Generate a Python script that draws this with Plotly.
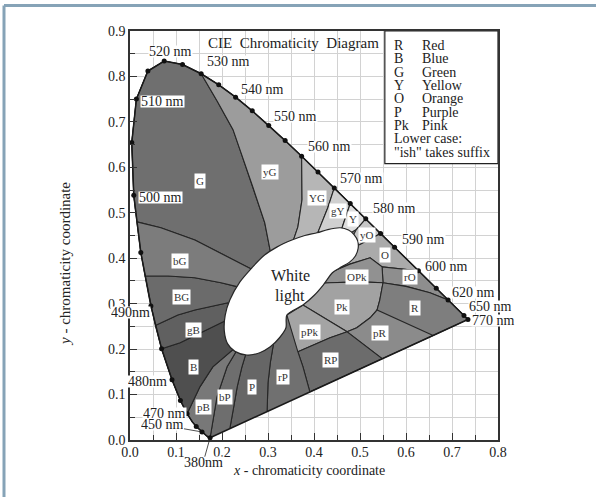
import plotly.graph_objects as go

# ---------------- data ----------------
LOCUS_NM = [380, 400, 420, 440, 450, 460, 465, 470, 475, 480, 485, 490, 495, 500, 505, 510,
            515, 520, 525, 530, 535, 540, 545, 550, 555, 560, 565, 570, 575, 580, 585, 590,
            595, 600, 605, 610, 620, 630, 640, 650, 700, 770]
LOCUS_X = [0.1741, 0.1733, 0.1714, 0.1644, 0.1566, 0.1440, 0.1355, 0.1241, 0.1096, 0.0913, 0.0687,
           0.0454, 0.0235, 0.0082, 0.0039, 0.0139, 0.0389, 0.0743, 0.1142, 0.1547, 0.1929, 0.2296,
           0.2658, 0.3016, 0.3373, 0.3731, 0.4087, 0.4441, 0.4788, 0.5125, 0.5448, 0.5752, 0.6029,
           0.6270, 0.6482, 0.6658, 0.6915, 0.7079, 0.7190, 0.7260, 0.7347, 0.7347]
LOCUS_Y = [0.0050, 0.0048, 0.0051, 0.0109, 0.0177, 0.0297, 0.0399, 0.0578, 0.0868, 0.1327, 0.2007,
           0.2950, 0.4127, 0.5384, 0.6548, 0.7502, 0.8120, 0.8338, 0.8262, 0.8059, 0.7816, 0.7543,
           0.7243, 0.6923, 0.6589, 0.6245, 0.5896, 0.5547, 0.5202, 0.4866, 0.4544, 0.4242, 0.3965,
           0.3725, 0.3514, 0.3340, 0.3083, 0.2920, 0.2809, 0.2740, 0.2653, 0.2653]

DOT_NM = [380, 450, 460, 470, 475, 480, 485, 490, 495, 500, 505, 510, 515, 520, 525, 530, 535,
          540, 545, 550, 555, 560, 565, 570, 575, 580, 585, 590, 600, 610, 620, 650, 770]

# region boundaries (x, y)
G_bG = [(0.015, 0.480), (0.067, 0.467), (0.141, 0.440), (0.213, 0.403), (0.272, 0.372)]
bG_BG = [(0.033, 0.361), (0.083, 0.361), (0.141, 0.357), (0.198, 0.346), (0.235, 0.337)]
BG_gB = [(0.055, 0.252), (0.104, 0.275), (0.141, 0.286), (0.213, 0.302)]
gB_B = [(0.0687, 0.2007), (0.109, 0.214), (0.152, 0.236), (0.206, 0.262)]
B_pB = [(0.1241, 0.0578), (0.152, 0.117), (0.180, 0.161), (0.225, 0.200)]
pB_bP = [(0.1741, 0.005), (0.189, 0.095), (0.211, 0.161), (0.232, 0.197)]
bP_P = [(0.217, 0.025), (0.225, 0.070), (0.233, 0.117), (0.243, 0.160), (0.252, 0.190)]
P_rP = [(0.298, 0.063), (0.300, 0.126), (0.305, 0.170), (0.312, 0.212)]
rP_RP = [(0.391, 0.106), (0.376, 0.161), (0.365, 0.194)]
RP_pR = [(0.548, 0.179), (0.472, 0.238)]
pR_R = [(0.659, 0.230), (0.537, 0.286)]
G_yG = [(0.1547, 0.8059), (0.190, 0.745), (0.224, 0.683), (0.239, 0.639), (0.267, 0.557),
        (0.293, 0.478), (0.308, 0.400)]
yG_YG = [(0.3731, 0.6245), (0.374, 0.529), (0.365, 0.469), (0.354, 0.436)]
YG_gY = [(0.4441, 0.5547), (0.430, 0.511), (0.409, 0.458)]
gY_Y = [(0.4788, 0.5202), (0.470, 0.495), (0.461, 0.467)]
Y_yO = [(0.5125, 0.4866), (0.492, 0.463)]
yO_O = [(0.5448, 0.4544), (0.500, 0.430)]
O_rO = [(0.6270, 0.3725), (0.548, 0.381)]
OPK_TOP = [(0.439, 0.370), (0.478, 0.387), (0.522, 0.401)]
BAND_OUT = [(0.522, 0.401), (0.548, 0.381), (0.550, 0.346), (0.543, 0.308), (0.537, 0.286),
            (0.522, 0.269), (0.493, 0.247), (0.472, 0.238), (0.435, 0.225), (0.365, 0.194)]
LONG = [(0.418, 0.345), (0.435, 0.346), (0.500, 0.348), (0.550, 0.346), (0.600, 0.338),
        (0.652, 0.324), (0.6915, 0.3083)]
Pk_pPk = [(0.376, 0.297), (0.472, 0.238)]
pPk_EDGE = [(0.341, 0.275), (0.365, 0.194)]

WHITE = [(0.407, 0.456), (0.430, 0.463), (0.457, 0.467), (0.475, 0.462), (0.487, 0.452),
         (0.495, 0.438), (0.496, 0.422), (0.490, 0.405), (0.478, 0.392), (0.455, 0.378),
         (0.440, 0.368), (0.420, 0.341), (0.400, 0.318), (0.376, 0.297), (0.341, 0.275),
         (0.339, 0.247), (0.325, 0.225), (0.305, 0.205), (0.282, 0.192), (0.254, 0.187),
         (0.228, 0.195), (0.212, 0.212), (0.205, 0.240), (0.207, 0.275), (0.217, 0.308),
         (0.239, 0.348), (0.265, 0.379), (0.290, 0.405), (0.320, 0.425), (0.352, 0.440),
         (0.380, 0.450)]

REGION_NAMES = ["G", "yG", "YG", "gY", "Y", "yO", "O", "rO", "OPk", "Pk", "pPk", "R", "pR",
                "RP", "rP", "P", "bP", "pB", "B", "gB", "BG", "bG"]
REGION_GRAYS = ["#6f6f6f", "#9c9c9c", "#b6b6b6", "#d0d0d0", "#dedede", "#c6c6c6", "#aaaaaa",
                "#8e8e8e", "#919191", "#a2a2a2", "#a4a4a4", "#7e7e7e", "#8b8b8b", "#6c6c6c",
                "#707070", "#666666", "#6e6e6e", "#787878", "#4f4f4f", "#606060", "#6b6b6b",
                "#7c7c7c"]

LABEL_X = [0.152, 0.304, 0.407, 0.452, 0.485, 0.515, 0.554, 0.609, 0.493, 0.461, 0.391, 0.620,
           0.543, 0.435, 0.333, 0.265, 0.207, 0.159, 0.137, 0.137, 0.111, 0.109]
LABEL_Y = [0.570, 0.590, 0.533, 0.504, 0.487, 0.452, 0.407, 0.359, 0.359, 0.293, 0.238, 0.291,
           0.236, 0.176, 0.139, 0.117, 0.095, 0.073, 0.161, 0.242, 0.315, 0.394]

NM_LABELS = ["520 nm", "530 nm", "540 nm", "550 nm", "560 nm", "570 nm", "580 nm", "590 nm",
             "600 nm", "620 nm", "650 nm", "770 nm", "510 nm", "500 nm", "490nm", "480nm",
             "470 nm"]
NM_LABEL_X = [0.087, 0.215, 0.289, 0.359, 0.433, 0.504, 0.574, 0.639, 0.689, 0.746, 0.783,
              0.791, 0.070, 0.067, 0.000, 0.039, 0.076]
NM_LABEL_Y = [0.855, 0.833, 0.771, 0.711, 0.645, 0.575, 0.509, 0.441, 0.381, 0.324, 0.293,
              0.264, 0.744, 0.533, 0.281, 0.128, 0.059]

LEGEND_CODES = ["R", "B", "G", "Y", "O", "P", "Pk"]
LEGEND_NAMES = ["Red", "Blue", "Green", "Yellow", "Orange", "Purple", "Pink"]
LEGEND_NOTE = ["Lower case:", "\"ish\" takes suffix"]

X_RANGE = [0.0, 0.8]
Y_RANGE = [0.0, 0.9]
X_TICKS = [0.0, 0.1, 0.2, 0.3, 0.4, 0.5, 0.6, 0.7, 0.8]
Y_TICKS = [0.0, 0.1, 0.2, 0.3, 0.4, 0.5, 0.6, 0.7, 0.8, 0.9]

# ---------------- helpers ----------------
def pt(nm):
    i = LOCUS_NM.index(nm)
    return (LOCUS_X[i], LOCUS_Y[i])


def arc(a, b):
    if a <= b:
        return [pt(n) for n in LOCUS_NM if a <= n <= b]
    return [pt(n) for n in reversed(LOCUS_NM) if b <= n <= a]


polys = {
    "G": [G_bG[0]] + arc(500, 525) + G_yG + [(0.300, 0.360)] + G_bG[::-1],
    "yG": arc(530, 555) + yG_YG + [(0.335, 0.410)] + G_yG[::-1],
    "YG": arc(560, 565) + YG_gY + [(0.380, 0.430)] + yG_YG[::-1],
    "gY": arc(570, 570) + gY_Y + [(0.435, 0.450)] + YG_gY[::-1],
    "Y": arc(575, 575) + Y_yO + [(0.470, 0.450)] + gY_Y[::-1],
    "yO": arc(580, 580) + yO_O + [(0.475, 0.430)] + Y_yO[::-1],
    "O": arc(585, 595) + O_rO + [BAND_OUT[0]] + OPK_TOP[::-1][1:] + [(0.470, 0.420)] + yO_O[::-1],
    "rO": arc(600, 620) + [LONG[5], LONG[4], LONG[3]] + O_rO[::-1],
    "OPk": LONG[0:4] + [BAND_OUT[1], BAND_OUT[0]] + OPK_TOP[::-1][1:] + [(0.430, 0.360)],
    "Pk": LONG[0:4] + BAND_OUT[3:8] + Pk_pPk[::-1] + [(0.400, 0.330)],
    "pPk": [pPk_EDGE[0]] + Pk_pPk + BAND_OUT[8:10],
    "R": [pR_R[0], pt(770)] + arc(700, 620) + [LONG[5], LONG[4], LONG[3]] + BAND_OUT[3:5],
    "pR": [RP_pR[1], RP_pR[0], pR_R[0], pR_R[1]] + BAND_OUT[5:8],
    "RP": [rP_RP[0]] + RP_pR + BAND_OUT[8:10] + rP_RP[::-1][1:],
    "rP": P_rP + [(0.300, 0.250)] + pPk_EDGE + rP_RP[::-1][1:],
    "P": bP_P + [(0.280, 0.230)] + P_rP[::-1],
    "bP": pB_bP + [(0.260, 0.230)] + bP_P[::-1],
    "pB": arc(470, 380) + pB_bP + [(0.250, 0.230)] + B_pB[::-1],
    "B": arc(485, 470) + B_pB + [(0.250, 0.240)] + gB_B[::-1],
    "gB": [BG_gB[0], pt(485)] + gB_B + [(0.250, 0.260)] + BG_gB[::-1],
    "BG": [bG_BG[0], pt(490)] + BG_gB + [(0.250, 0.300)] + bG_BG[::-1],
    "bG": [G_bG[0], pt(495)] + bG_BG + [(0.260, 0.330)] + G_bG[::-1],
}

fig = go.Figure()

# base horseshoe
base = arc(380, 770)
fig.add_trace(go.Scatter(x=[p[0] for p in base], y=[p[1] for p in base], mode="lines",
                         fill="toself", fillcolor="#777777", line=dict(color="#222", width=1),
                         hoverinfo="skip"))

for name, gray in zip(REGION_NAMES, REGION_GRAYS):
    pts = polys[name]
    fig.add_trace(go.Scatter(x=[p[0] for p in pts], y=[p[1] for p in pts], mode="lines",
                             fill="toself", fillcolor=gray,
                             line=dict(color="#262626", width=1.1), hoverinfo="skip"))

# white light region
fig.add_trace(go.Scatter(x=[p[0] for p in WHITE] + [WHITE[0][0]],
                         y=[p[1] for p in WHITE] + [WHITE[0][1]],
                         mode="lines", fill="toself", fillcolor="white",
                         line=dict(color="#262626", width=1.2, shape="spline", smoothing=0.8),
                         hoverinfo="skip"))

# spectral locus outline + purple line
fig.add_trace(go.Scatter(x=[p[0] for p in base] + [base[0][0]],
                         y=[p[1] for p in base] + [base[0][1]],
                         mode="lines", line=dict(color="#1a1a1a", width=1.5), hoverinfo="skip"))

# wavelength dots
fig.add_trace(go.Scatter(x=[pt(n)[0] for n in DOT_NM], y=[pt(n)[1] for n in DOT_NM],
                         mode="markers", marker=dict(color="#111", size=5),
                         cliponaxis=False, hoverinfo="skip"))

SERIF = "Liberation Serif"


def to_paper(x, y):
    return ((x - X_RANGE[0]) / (X_RANGE[1] - X_RANGE[0]),
            (y - Y_RANGE[0]) / (Y_RANGE[1] - Y_RANGE[0]))


ann = []
for t, x, y in zip(NM_LABELS, NM_LABEL_X, NM_LABEL_Y):
    px_, py_ = to_paper(x, y)
    ann.append(dict(x=px_, y=py_, xref="paper", yref="paper", text=t, showarrow=False,
                    xanchor="center", yanchor="middle",
                    font=dict(family=SERIF, size=14, color="#222"),
                    bgcolor="white", borderpad=0, height=11))
# 450 nm and 380 nm with leaders
p450 = pt(450)
ann.append(dict(x=p450[0], y=p450[1], xref="x", yref="y", text="450 nm", showarrow=True,
                arrowhead=0, arrowwidth=0.8, arrowcolor="#222", ax=-40, ay=-7, standoff=2,
                font=dict(family=SERIF, size=14, color="#222"), bgcolor="white",
                borderpad=0, height=11))
p380 = pt(380)
ann.append(dict(x=p380[0], y=p380[1], xref="x", yref="y", text="380nm", showarrow=True,
                arrowhead=0, arrowwidth=0.8, arrowcolor="#222", ax=-7, ay=25, standoff=1,
                font=dict(family=SERIF, size=14, color="#222"), bgcolor="white",
                borderpad=0, height=11))

for name, x, y in zip(REGION_NAMES, LABEL_X, LABEL_Y):
    ann.append(dict(x=x, y=y, xref="x", yref="y", text=name, showarrow=False,
                    font=dict(family=SERIF, size=11, color="#333"),
                    bgcolor="white", borderpad=1))

ann.append(dict(x=0.348, y=0.361, xref="x", yref="y", text="White", showarrow=False,
                font=dict(family=SERIF, size=16, color="#222")))
ann.append(dict(x=0.348, y=0.317, xref="x", yref="y", text="light", showarrow=False,
                font=dict(family=SERIF, size=16, color="#222")))

# title
ann.append(dict(x=0.355, y=0.873, xref="x", yref="y", text="CIE  Chromaticity  Diagram",
                showarrow=False, font=dict(family=SERIF, size=15, color="#222")))

# legend box text
ROW0, ROWSTEP = 0.868, 0.0293
for i, (c, n) in enumerate(zip(LEGEND_CODES, LEGEND_NAMES)):
    y = ROW0 - i * ROWSTEP
    ann.append(dict(x=0.569, y=y, xref="x", yref="y", text=c, showarrow=False, xanchor="left",
                    font=dict(family=SERIF, size=14, color="#222")))
    ann.append(dict(x=0.630, y=y, xref="x", yref="y", text=n, showarrow=False, xanchor="left",
                    font=dict(family=SERIF, size=14, color="#222")))
for j, t in enumerate(LEGEND_NOTE):
    y = ROW0 - (len(LEGEND_CODES) + j) * ROWSTEP
    ann.append(dict(x=0.569, y=y, xref="x", yref="y", text=t, showarrow=False, xanchor="left",
                    font=dict(family=SERIF, size=14, color="#222")))

# axis titles
ML, MR, MT, MB, W, H = 130, 98, 31, 57, 596, 497
PW, PH = W - ML - MR, H - MT - MB


def px2paper(px, py):
    return (px - ML) / PW, (H - MB - py) / PH


xt = px2paper(309, 470)
ann.append(dict(x=xt[0], y=xt[1], xref="paper", yref="paper", xanchor="center",
                yanchor="middle", text="<i>x</i> - chromaticity coordinate", showarrow=False,
                font=dict(family=SERIF, size=14, color="#222")))
yt = px2paper(65, 264)
ann.append(dict(x=yt[0], y=yt[1], xref="paper", yref="paper", textangle=-90,
                xanchor="center", yanchor="middle",
                text="<i>y</i> - chromaticity coordinate", showarrow=False,
                font=dict(family=SERIF, size=15, color="#222")))

# outer frame lines
a0 = px2paper(4, 5.5)
a1 = px2paper(596, 497)
shapes = [
    dict(type="line", xref="paper", yref="paper", x0=a0[0], y0=a0[1], x1=a1[0], y1=a0[1],
         line=dict(color="#86a3b7", width=3)),
    dict(type="line", xref="paper", yref="paper", x0=a0[0], y0=a0[1], x1=a0[0], y1=a1[1],
         line=dict(color="#86a3b7", width=3)),
    dict(type="rect", xref="x", yref="y", x0=0.554, x1=0.8, y0=0.608, y1=0.9,
         fillcolor="white", line=dict(color="#222", width=1.2), layer="above"),
]

axis_common = dict(showline=True, linecolor="#333", linewidth=1.5, mirror=True,
                   ticks="inside", ticklen=7, tickcolor="#333", tickwidth=1,
                   showgrid=True, gridcolor="#d2d2d2", gridwidth=1, zeroline=False,
                   tickformat=".1f", tickfont=dict(family=SERIF, size=14, color="#222"),
                   minor=dict(dtick=0.05, ticks="inside", ticklen=5, tickcolor="#333",
                              showgrid=True, gridcolor="#d2d2d2", gridwidth=1))

fig.update_layout(
    width=W, height=H, autosize=False,
    margin=dict(l=ML, r=MR, t=MT, b=MB),
    paper_bgcolor="white", plot_bgcolor="white", showlegend=False,
    font=dict(family=SERIF, size=14, color="#222"),
    xaxis=dict(range=X_RANGE, tickvals=X_TICKS, ticklabelstandoff=-2, **axis_common),
    yaxis=dict(range=Y_RANGE, tickvals=Y_TICKS, **axis_common),
    annotations=ann, shapes=shapes,
)

fig.write_html("out.html", config={"displayModeBar": False},
               post_script="document.body.style.margin='0';document.body.style.overflow='hidden';")
